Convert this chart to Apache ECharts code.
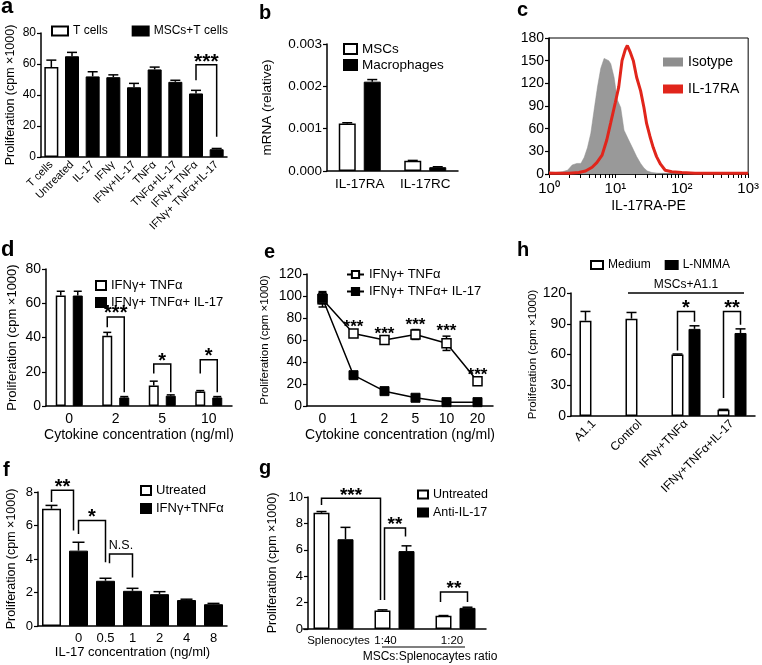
<!DOCTYPE html>
<html>
<head>
<meta charset="utf-8">
<script src="https://cdn.jsdelivr.net/npm/echarts@6/dist/echarts.min.js"></script>
<style>
  html, body { margin: 0; background: #fff; }
  #main { width: 762px; height: 665px; }
</style>
</head>
<body>
<div id="main"></div>
<script>
var FONT = 'Arial, "Liberation Sans", sans-serif';

// ---- panel a
var aCats = ['T cells', 'Untreated', 'IL-17', 'IFNγ', 'IFNγ+IL-17', 'TNFα', 'TNFα+IL-17', 'IFNγ+ TNFα', 'IFNγ+ TNFα+IL-17'];
var aVals = [58, 65, 52, 51.5, 45, 56.5, 48.5, 41, 5];
var aErr = [4.5, 2.5, 3, 1.5, 2.5, 1.5, 1, 2, 0.5];

// ---- panel b
var bCats = ['IL-17RA', 'IL-17RC'];
var bMSC = [0.00112, 0.00024];
var bMSCErr = [0.00002, 0.00001];
var bMac = [0.00211, 0.00009];
var bMacErr = [0.00005, 0.00001];

// ---- panel c (x in log10 units, y = counts)
var isoHist = [[0,3],[0.1,2],[0.2,3],[0.28,5],[0.35,12],[0.42,14],[0.48,14],[0.53,22],[0.58,35],[0.63,54],[0.68,85],
  [0.73,115],[0.78,140],[0.83,153],[0.86,155],[0.9,150],[0.93,146],[0.98,128],[1.03,98],[1.08,88],[1.13,58],[1.2,45],
  [1.25,36],[1.32,23],[1.38,14],[1.43,8],[1.48,4],[1.55,2],[1.65,1],[3,1]];
var raHist = [[0,1],[0.3,1],[0.45,2],[0.55,4],[0.65,9],[0.72,15],[0.8,25],[0.87,45],[0.93,68],[1.0,95],[1.05,115],
  [1.1,150],[1.15,165],[1.18,170],[1.22,162],[1.27,150],[1.32,128],[1.38,110],[1.43,88],[1.47,67],[1.52,50],[1.57,35],
  [1.62,23],[1.68,13],[1.75,5],[1.85,3],[2.0,2],[2.2,1],[3,1]];
var cTickLabels = ['10⁰', '10¹', '10²', '10³'];

// ---- panel d
var dCats = ['0', '2', '5', '10'];
var dA = [64.5, 41, 12, 8.5];
var dAErr = [2.5, 2, 2.5, 0.5];
var dB = [64.5, 5, 6, 5];
var dBErr = [2.5, 0.5, 0.5, 0.5];

// ---- panel e
var eCats = ['0', '1', '2', '5', '10', '20'];
var eA = [97, 66, 60, 65, 57, 22.5];
var eAErr = [7, 1.5, 1.5, 4.5, 6.5, 1.5];
var eB = [98, 28, 13.5, 7.5, 3.5, 3.5];
var eBErr = [5, 1, 1, 0.8, 0.5, 0.5];
var eStars = ['', '***', '***', '***', '***', '***'];

// ---- panel h
var hCats = ['A1.1', 'Control', 'IFNγ+TNFα', 'IFNγ+TNFα+IL-17'];
var hMed = [93, 95, 60, 6];
var hMedErr = [9, 6, 0.5, 0.5];
var hNMMA = ['-', '-', 85, 81];
var hNMMAErr = [0, 0, 3, 4];

// ---- panel f
var fCats = ['', '0', '0.5', '1', '2', '4', '8'];
var fVals = [7.0, 4.5, 2.7, 2.1, 1.9, 1.55, 1.3];
var fErr = [0.2, 0.5, 0.15, 0.15, 0.15, 0.05, 0.05];

// ---- panel g
var gCats = ['Splenocytes', '1:40', '1:20'];
var gUn = [8.8, 1.4, 1.0];
var gUnErr = [0.1, 0.05, 0.02];
var gAnti = [6.8, 5.9, 1.6];
var gAntiErr = [0.9, 0.4, 0.05];

// significance brackets: from/to = [category, px shift], heights in data units
var aBr = [{from:[7,0], to:[8,0], top:59.5, left:49.5, right:13, text:'***', fs:21}];
var dBr = [
  {from:[1,-8.5], to:[1,8.5], top:52, left:46, right:8, text:'***', fs:20},
  {from:[2,-8.5], to:[2,8.5], top:24.5, left:19, right:8, text:'*', fs:20},
  {from:[3,-8.5], to:[3,8.5], top:27, left:19, right:8, text:'*', fs:20}
];
var hBr = [
  {from:[2,-8.5], to:[2,8.5], top:102, left:64, right:92, text:'*', fs:20},
  {from:[3,-8.5], to:[3,8.5], top:102, left:17.5, right:89, text:'**', fs:20}
];
var fBr = [
  {from:[0,0], to:[1,-5], top:8.1, left:7.4, right:5.7, text:'**', fs:20},
  {from:[1,0], to:[2,0], top:6.3, left:5.5, right:3.8, text:'*', fs:20},
  {from:[2,4], to:[3,0], top:4.3, left:3.75, right:2.9, text:'N.S.', fs:12.5, normal:true}
];
var gBr = [
  {from:[0,-12], to:[1,-14], top:9.9, left:9.4, right:2.2, text:'***', fs:19},
  {from:[1,-10], to:[1,11], top:7.65, left:2.2, right:7.0, text:'**', fs:19},
  {from:[2,-15], to:[2,12], top:2.8, left:2.05, right:2.05, text:'**', fs:19}
];

var LABELS = {
  aT: 'T cells', aM: 'MSCs+T cells', bS: 'MSCs', bM: 'Macrophages', cI: 'Isotype', cR: 'IL-17RA',
  dA: 'IFNγ+ TNFα', dB: 'IFNγ+ TNFα+ IL-17', eA: 'IFNγ+ TNFα', eB: 'IFNγ+ TNFα+ IL-17',
  hM: 'Medium', hN: 'L-NMMA', fU: 'Utreated', fI: 'IFNγ+TNFα', gU: 'Untreated', gA: 'Anti-IL-17'
};

var WHITE = {color: '#fff', borderColor: '#000', borderWidth: 1.5};
var BLACK = {color: '#000', borderColor: '#000', borderWidth: 1};

function yAx(gi, max, step, fs, name, nameFs, nameGap, extra) {
  var o = {
    type: 'value', gridIndex: gi, min: 0, max: max, interval: step,
    splitLine: {show: false},
    axisLine: {show: true, lineStyle: {color: '#000', width: 1.5}},
    axisTick: {show: true, length: 4, lineStyle: {color: '#000', width: 1.2}},
    axisLabel: {color: '#000', fontSize: fs, fontFamily: FONT, margin: 5},
    name: name, nameLocation: 'middle', nameGap: nameGap,
    nameTextStyle: {color: '#000', fontSize: nameFs, fontFamily: FONT}
  };
  for (var k in (extra || {})) o[k] = extra[k];
  return o;
}

function catX(gi, data, fs, rotate, name, nameGap, nameFs) {
  return {
    type: 'category', gridIndex: gi, data: data,
    axisLine: {lineStyle: {color: '#000', width: 1.5}},
    axisTick: {alignWithLabel: true, length: 4, lineStyle: {color: '#000', width: 1.2}},
    axisLabel: {color: '#000', fontSize: fs, fontFamily: FONT, margin: 6, interval: 0, rotate: rotate || 0},
    name: name || '', nameLocation: 'middle', nameGap: nameGap || 20,
    nameTextStyle: {color: '#000', fontSize: nameFs || 14, fontFamily: FONT}
  };
}

function bar(name, xi, yi, data, style, w, gap) {
  return {type: 'bar', name: name, xAxisIndex: xi, yAxisIndex: yi, data: data,
    itemStyle: style, barWidth: w, barGap: gap, z: 2, silent: true};
}

function errSeries(xi, yi, vals, errs, dx, cap, both) {
  return {
    type: 'custom', xAxisIndex: xi, yAxisIndex: yi, z: both ? 1 : 4, silent: true,
    data: vals.map(function (v, i) { return [i, v === '-' ? 0 : v]; }),
    renderItem: function (params, api) {
      var i = params.dataIndex, v = vals[i], e = errs[i];
      if (v === '-' || !e) return null;
      var p = api.coord([i, v]);
      var x = p[0] + dx;
      var yt = api.coord([i, v + e])[1];
      var yb = both ? api.coord([i, v - e])[1] : p[1];
      var st = {stroke: '#000', lineWidth: 1.5};
      var ch = [
        {type: 'line', shape: {x1: x, y1: yb, x2: x, y2: yt}, style: st},
        {type: 'line', shape: {x1: x - cap, y1: yt, x2: x + cap, y2: yt}, style: st}
      ];
      if (both) ch.push({type: 'line', shape: {x1: x - cap, y1: yb, x2: x + cap, y2: yb}, style: st});
      return {type: 'group', children: ch};
    }
  };
}

function bracketSeries(xi, yi, list) {
  return {
    type: 'custom', xAxisIndex: xi, yAxisIndex: yi, z: 6, silent: true,
    data: list.map(function (b) { return [b.from[0], b.top]; }),
    renderItem: function (params, api) {
      var b = list[params.dataIndex];
      var xa = api.coord([b.from[0], b.top])[0] + b.from[1];
      var xb = api.coord([b.to[0], b.top])[0] + b.to[1];
      var yt = api.coord([0, b.top])[1];
      var yl = api.coord([0, b.left])[1];
      var yr = api.coord([0, b.right])[1];
      return {type: 'group', children: [
        {type: 'polyline', shape: {points: [[xa, yl], [xa, yt], [xb, yt], [xb, yr]]},
          style: {stroke: '#000', lineWidth: 1.5, fill: 'none'}},
        {type: 'text', style: {x: (xa + xb) / 2, y: b.normal ? yt - 2 : yt + 0.45 * b.fs - 2, text: b.text, fill: '#000',
          font: (b.normal ? '' : 'bold ') + b.fs + 'px ' + FONT, align: 'center', verticalAlign: 'bottom'}}
      ]};
    }
  };
}

function legend(names, left, top, orient, fs, iw, ih, gap, extra) {
  var o = {
    data: names, left: left, top: top, orient: orient, itemWidth: iw, itemHeight: ih, itemGap: gap,
    selectedMode: false, icon: 'rect', padding: 0,
    textStyle: {color: '#000', fontSize: fs, fontFamily: FONT},
    formatter: function (n) { return LABELS[n]; }
  };
  for (var k in (extra || {})) o[k] = extra[k];
  return o;
}

// log-decade tick positions for panel c
var cTicks = [];
[0, 1, 2].forEach(function (d) {
  for (var m = 1; m <= 9; m++) cTicks.push(d + Math.log10(m));
});
cTicks.push(3);

var chart = echarts.init(document.getElementById('main'));

var option = {
  animation: false,
  backgroundColor: '#fff',
  grid: [
    {left: 41, top: 33, width: 186, height: 124},   // a
    {left: 327, top: 44, width: 131, height: 127},  // b
    {left: 549, top: 38, width: 202, height: 136, show: true, borderColor: '#000', borderWidth: 1}, // c
    {left: 46, top: 269, width: 186, height: 137},  // d
    {left: 307, top: 274, width: 186, height: 132}, // e
    {left: 571, top: 293, width: 184, height: 123}, // h
    {left: 38, top: 492, width: 189, height: 134},  // f
    {left: 303, top: 497, width: 183, height: 132}  // g
  ],
  xAxis: [
    catX(0, aCats, 11, 45),
    catX(1, bCats, 13.5, 0),
    {
      type: 'value', gridIndex: 2, min: 0, max: 3, interval: 1,
      splitLine: {show: false},
      axisLine: {lineStyle: {color: '#000', width: 1.5}},
      axisTick: {length: 4, customValues: cTicks, lineStyle: {color: '#000', width: 1}},
      axisLabel: {
        color: '#000', fontSize: 15, fontFamily: FONT, margin: 7, customValues: [0, 1, 2, 3],
        formatter: function (v) { return cTickLabels[Math.round(v)]; }
      },
      name: 'IL-17RA-PE', nameLocation: 'middle', nameGap: 25,
      nameTextStyle: {color: '#000', fontSize: 14, fontFamily: FONT}
    },
    catX(3, dCats, 14, 0, 'Cytokine concentration (ng/ml)', 22, 14),
    catX(4, eCats, 14, 0, 'Cytokine concentration (ng/ml)', 22, 14),
    catX(5, hCats, 12, 45),
    catX(6, fCats, 13, 0, 'IL-17 concentration (ng/ml)', 19, 13),
    (function () {
      var ax = catX(7, [
        {value: gCats[0], textStyle: {padding: [0, 0, 0, 10]}},
        {value: gCats[1], textStyle: {padding: [0, 18, 0, 0]}},
        {value: gCats[2], textStyle: {padding: [0, 7, 0, 0]}}
      ], 11.5, 0);
      ax.axisTick.show = false;
      return ax;
    })()
  ],
  yAxis: [
    yAx(0, 80, 20, 12, 'Proliferation (cpm ×1000)', 12.5, 24),
    yAx(1, 0.003, 0.001, 13.5, 'mRNA (relative)', 13.5, 53, {
      axisLabel: {color: '#000', fontSize: 13.5, fontFamily: FONT, margin: 5,
        formatter: function (v) { return v.toFixed(3); }}
    }),
    yAx(2, 180, 30, 14, '', 12, 20),
    yAx(3, 80, 20, 14, 'Proliferation (cpm ×1000)', 13, 27),
    yAx(4, 120, 20, 14, 'Proliferation (cpm ×1000)', 11.5, 36),
    yAx(5, 120, 30, 14, 'Proliferation (cpm ×1000)', 11.5, 27),
    yAx(6, 8, 2, 13, 'Proliferation (cpm ×1000)', 12.5, 20),
    yAx(7, 10, 2, 13, 'Proliferation (cpm ×1000)', 12.5, 29, {offset: -5})
  ],
  legend: [
    legend(['aT', 'aM'], 51, 25, 'horizontal', 12, 16, 9, 24),
    legend(['bS', 'bM'], 343, 42, 'vertical', 13.5, 13, 10, 2),
    legend(['cI', 'cR'], 663, 55, 'vertical', 14, 20, 9, 13),
    legend(['dA', 'dB'], 95, 279, 'vertical', 13, 10, 9, 4),
    legend(['eA', 'eB'], 346, 268, 'vertical', 13, 17, 9, 4, {icon: null}),
    legend(['hM', 'hN'], 590, 259, 'horizontal', 12, 12, 8, 14),
    legend(['fU', 'fI'], 140, 484, 'vertical', 13, 10, 9, 5),
    legend(['gU', 'gA'], 417, 488, 'vertical', 12.5, 10, 8, 5)
  ],
  series: [
    // a
    bar('aT', 0, 0, aVals.map(function (v, i) { return i === 0 ? v : '-'; }), WHITE, 14, '-100%'),
    bar('aM', 0, 0, aVals.map(function (v, i) { return i === 0 ? '-' : v; }), BLACK, 14, '-100%'),
    errSeries(0, 0, aVals, aErr, 0, 5),
    bracketSeries(0, 0, aBr),
    // b
    bar('bS', 1, 1, bMSC, WHITE, 17, '47%'),
    bar('bM', 1, 1, bMac, BLACK, 17, '47%'),
    errSeries(1, 1, bMSC, bMSCErr, -12.5, 5),
    errSeries(1, 1, bMac, bMacErr, 12.5, 5),
    // c
    {type: 'line', name: 'cI', xAxisIndex: 2, yAxisIndex: 2, data: isoHist, symbol: 'none', silent: true,
      itemStyle: {color: '#8e8e8e'}, lineStyle: {color: '#8e8e8e', width: 0.5},
      areaStyle: {color: '#999999', opacity: 1}, z: 2},
    {type: 'line', name: 'cR', xAxisIndex: 2, yAxisIndex: 2, data: raHist, symbol: 'none', silent: true,
      itemStyle: {color: '#e1251b'}, lineStyle: {color: '#e1251b', width: 3}, z: 3},
    // d
    bar('dA', 3, 3, dA, WHITE, 10, '70%'),
    bar('dB', 3, 3, dB, BLACK, 10, '70%'),
    errSeries(3, 3, dA, dAErr, -8.5, 4),
    errSeries(3, 3, dB, dBErr, 8.5, 4),
    bracketSeries(3, 3, dBr),
    // e
    errSeries(4, 4, eA, eAErr, 0, 4, true),
    errSeries(4, 4, eB, eBErr, 0, 4, true),
    {type: 'line', name: 'eA', xAxisIndex: 4, yAxisIndex: 4, data: eA, symbol: 'rect', symbolSize: 9,
      showAllSymbol: true, silent: true, z: 3,
      itemStyle: {color: '#fff', borderColor: '#000', borderWidth: 1.5}, lineStyle: {color: '#000', width: 1.5}},
    {type: 'line', name: 'eB', xAxisIndex: 4, yAxisIndex: 4, data: eB, symbol: 'rect', symbolSize: 9,
      showAllSymbol: true, silent: true, z: 3,
      itemStyle: {color: '#000', borderColor: '#000', borderWidth: 1}, lineStyle: {color: '#000', width: 1.5}},
    {type: 'custom', xAxisIndex: 4, yAxisIndex: 4, z: 6, silent: true,
      data: eA.map(function (v, i) { return [i, v]; }),
      renderItem: function (params, api) {
        var i = params.dataIndex;
        if (!eStars[i]) return null;
        var p = api.coord([i, eA[i] + eAErr[i]]);
        return {type: 'text', style: {x: p[0], y: p[1] + 4, text: eStars[i], fill: '#000',
          font: 'bold 17px ' + FONT, align: 'center', verticalAlign: 'bottom'}};
      }},
    // h
    bar('hM', 5, 5, hMed, WHITE, 12, '42%'),
    bar('hN', 5, 5, hNMMA, BLACK, 12, '42%'),
    errSeries(5, 5, hMed, hMedErr, -8.5, 5),
    errSeries(5, 5, hNMMA, hNMMAErr, 8.5, 5),
    bracketSeries(5, 5, hBr),
    // f
    bar('fU', 6, 6, fVals.map(function (v, i) { return i === 0 ? v : '-'; }), WHITE, 19, '-100%'),
    bar('fI', 6, 6, fVals.map(function (v, i) { return i === 0 ? '-' : v; }), BLACK, 19, '-100%'),
    errSeries(6, 6, fVals, fErr, 0, 6),
    bracketSeries(6, 6, fBr),
    // g
    bar('gU', 7, 7, gUn, WHITE, 16, '50%'),
    bar('gA', 7, 7, gAnti, BLACK, 16, '50%'),
    errSeries(7, 7, gUn, gUnErr, -12, 5),
    errSeries(7, 7, gAnti, gAntiErr, 12, 5),
    bracketSeries(7, 7, gBr)
  ],
  graphic: [
    {type: 'text', x: 1, y: 7, style: {text: 'a', font: 'bold 22px ' + FONT, fill: '#000', verticalAlign: 'middle'}},
    {type: 'text', x: 259, y: 13, style: {text: 'b', font: 'bold 20px ' + FONT, fill: '#000', verticalAlign: 'middle'}},
    {type: 'text', x: 517, y: 10, style: {text: 'c', font: 'bold 20px ' + FONT, fill: '#000', verticalAlign: 'middle'}},
    {type: 'text', x: 1, y: 250, style: {text: 'd', font: 'bold 22px ' + FONT, fill: '#000', verticalAlign: 'middle'}},
    {type: 'text', x: 264, y: 252, style: {text: 'e', font: 'bold 20px ' + FONT, fill: '#000', verticalAlign: 'middle'}},
    {type: 'text', x: 517, y: 250, style: {text: 'h', font: 'bold 20px ' + FONT, fill: '#000', verticalAlign: 'middle'}},
    {type: 'text', x: 3, y: 470, style: {text: 'f', font: 'bold 20px ' + FONT, fill: '#000', verticalAlign: 'middle'}},
    {type: 'text', x: 259, y: 468, style: {text: 'g', font: 'bold 20px ' + FONT, fill: '#000', verticalAlign: 'middle'}},
    // h group line
    {type: 'line', shape: {x1: 628, y1: 293, x2: 744, y2: 293}, style: {stroke: '#000', lineWidth: 1.5}},
    {type: 'text', x: 686, y: 285, style: {text: 'MSCs+A1.1', font: '12px ' + FONT, fill: '#000', align: 'center', verticalAlign: 'middle'}},
    // g ratio note
    {type: 'line', shape: {x1: 382, y1: 647, x2: 465, y2: 647}, style: {stroke: '#000', lineWidth: 1.2}},
    {type: 'text', x: 430, y: 657, style: {text: 'MSCs:Splenocaytes ratio', font: '12px ' + FONT, fill: '#000', align: 'center', verticalAlign: 'middle'}}
  ]
};

option && chart.setOption(option);
</script>
</body>
</html>
